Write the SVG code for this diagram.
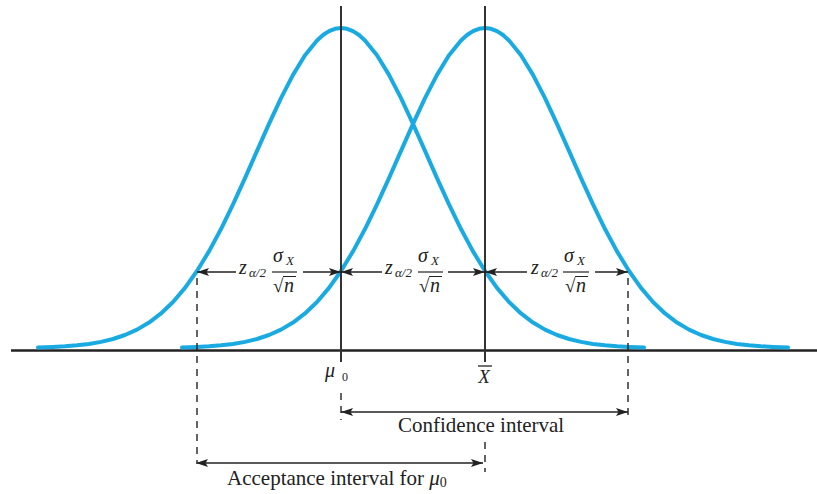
<svg xmlns="http://www.w3.org/2000/svg" xmlns:xlink="http://www.w3.org/1999/xlink" width="817" height="494" viewBox="0 0 817 494">
<style>
.curve{fill:none;stroke:#1aaae2;stroke-width:4;stroke-linejoin:round;stroke-linecap:round}
.axis{stroke:#222;stroke-width:2.5;fill:none}
.vline{stroke:#333;stroke-width:2;fill:none}
.dash{stroke:#222;stroke-width:1.4;stroke-dasharray:7 6;fill:none}
.arr{stroke:#222;stroke-width:1.6;fill:none}
.t{font-family:"Liberation Serif","DejaVu Serif",serif;fill:#222}
.it{font-style:italic}
</style>
<defs>
<path id="bell" d="M-303,347.42 L-288,346.93 L-276,346.29 L-264,345.34 L-252,343.92 L-240,341.88 L-228,339 L-216,335.02 L-204,329.65 L-192,322.57 L-180,313.45 L-168,301.97 L-156,287.88 L-144,271.01 L-132,251.34 L-120,229.01 L-108,204.4 L-96,178.1 L-84,150.93 L-72,123.87 L-60,98.12 L-48,74.85 L-36,55.26 L-24,40.42 L-18,35.04 L-12,31.15 L-6,28.79 L0,28 L6,28.79 L12,31.15 L18,35.04 L24,40.42 L36,55.26 L48,74.85 L60,98.12 L72,123.87 L84,150.93 L96,178.1 L108,204.4 L120,229.01 L132,251.34 L144,271.01 L156,287.88 L168,301.97 L180,313.45 L192,322.57 L204,329.65 L216,335.02 L228,339 L240,341.88 L252,343.92 L264,345.34 L276,346.29 L288,346.93 L303,347.42"/>
<marker id="ah" viewBox="0 0 12 8" refX="12" refY="4" markerWidth="13" markerHeight="8" markerUnits="userSpaceOnUse" orient="auto-start-reverse">
<path d="M0,0 L12,4 L0,8 L2.5,4 Z" fill="#222"/>
</marker>
</defs>

<g id="axis">
<line class="axis" x1="11" y1="350.5" x2="817" y2="350.5"/>
</g>

<g id="curves">
<use xlink:href="#bell" href="#bell" x="341" class="curve"/>
<use xlink:href="#bell" href="#bell" x="485" class="curve"/>
</g>

<g id="verticals">
<line class="vline" x1="341" y1="6" x2="341" y2="362"/>
<line class="vline" x1="485" y1="6" x2="485" y2="362"/>
</g>

<g id="connectors">
<line class="dash" x1="197" y1="278" x2="197" y2="462"/>
<line class="dash" x1="628" y1="278" x2="628" y2="420"/>
<line class="dash" x1="341" y1="393" x2="341" y2="420"/>
<line class="dash" x1="485" y1="442" x2="485" y2="472"/>
<!-- segment 1 -->
<line class="arr" x1="236" y1="272" x2="197" y2="272" marker-end="url(#ah)"/>
<line class="arr" x1="303" y1="272" x2="341" y2="272" marker-end="url(#ah)"/>
<!-- segment 2 -->
<line class="arr" x1="382" y1="272" x2="341" y2="272" marker-end="url(#ah)"/>
<line class="arr" x1="448" y1="272" x2="485" y2="272" marker-end="url(#ah)"/>
<!-- segment 3 -->
<line class="arr" x1="527" y1="272" x2="485" y2="272" marker-end="url(#ah)"/>
<line class="arr" x1="595" y1="272" x2="628" y2="272" marker-end="url(#ah)"/>
<!-- intervals -->
<line class="arr" x1="341" y1="412" x2="628" y2="412" marker-start="url(#ah)" marker-end="url(#ah)"/>
<line class="arr" x1="196" y1="463" x2="483" y2="463" marker-start="url(#ah)" marker-end="url(#ah)"/>
</g>

<g id="label1">
<text class="t it" x="239" y="274" font-size="20">z</text>
<text class="t it" x="249" y="277" font-size="13">α/2</text>
<text class="t it" x="273" y="262" font-size="20">σ</text>
<text class="t it" x="286" y="265" font-size="13">X</text>
<line x1="272" y1="272" x2="297" y2="272" stroke="#222" stroke-width="1.2"/>
<text class="t" x="273" y="292" font-size="19">√</text>
<line x1="283" y1="276.5" x2="296" y2="276.5" stroke="#222" stroke-width="1"/>
<text class="t it" x="284" y="292" font-size="20">n</text>
</g>

<g id="label2">
<text class="t it" x="385" y="274" font-size="20">z</text>
<text class="t it" x="395" y="277" font-size="13">α/2</text>
<text class="t it" x="418" y="262" font-size="20">σ</text>
<text class="t it" x="431" y="265" font-size="13">X</text>
<line x1="418" y1="272" x2="443" y2="272" stroke="#222" stroke-width="1.2"/>
<text class="t" x="419" y="292" font-size="19">√</text>
<line x1="429" y1="276.5" x2="442" y2="276.5" stroke="#222" stroke-width="1"/>
<text class="t it" x="430" y="292" font-size="20">n</text>
</g>

<g id="label3">
<text class="t it" x="531" y="274" font-size="20">z</text>
<text class="t it" x="541" y="277" font-size="13">α/2</text>
<text class="t it" x="564" y="262" font-size="20">σ</text>
<text class="t it" x="577" y="265" font-size="13">X</text>
<line x1="563" y1="272" x2="589" y2="272" stroke="#222" stroke-width="1.2"/>
<text class="t" x="565" y="292" font-size="19">√</text>
<line x1="575" y1="276.5" x2="588" y2="276.5" stroke="#222" stroke-width="1"/>
<text class="t it" x="576" y="292" font-size="20">n</text>
</g>

<g id="mu0">
<text class="t it" x="325" y="377" font-size="20">μ</text>
<text class="t" x="342" y="381" font-size="12">0</text>
</g>

<g id="xbar">
<text class="t it" x="484" y="383" font-size="19" text-anchor="middle">X</text>
<line x1="478" y1="366" x2="492" y2="366" stroke="#222" stroke-width="1.3"/>
</g>

<g id="confidence">
<text class="t" x="398" y="432" font-size="21">Confidence interval</text>
</g>

<g id="acceptance">
<text class="t" x="227" y="485" font-size="21">Acceptance interval for <tspan class="it">μ</tspan><tspan font-size="14" dy="2">0</tspan></text>
</g>
</svg>
